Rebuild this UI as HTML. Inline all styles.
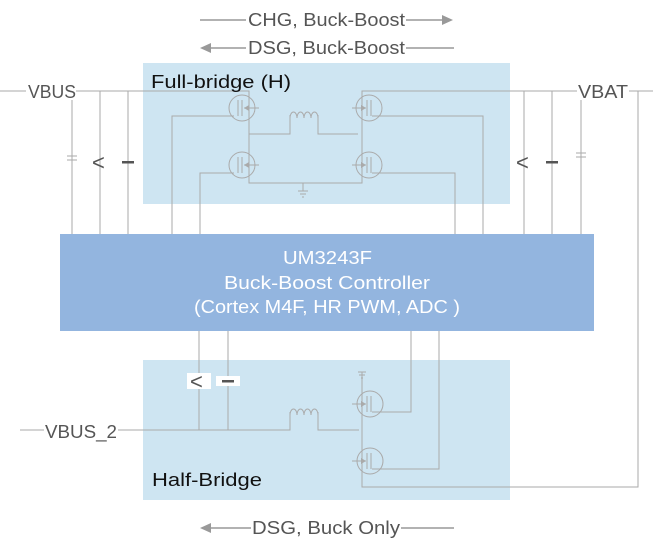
<!DOCTYPE html>
<html><head><meta charset="utf-8"><style>
html,body{margin:0;padding:0;background:#fff;}
svg{display:block;}
text{font-family:"Liberation Sans","DejaVu Sans",sans-serif;}
</style></head><body>
<svg width="653" height="553" viewBox="0 0 653 553" xmlns="http://www.w3.org/2000/svg">
<!-- top arrows -->
<g stroke="#999" stroke-width="1.5" fill="#999">
<line x1="200" y1="20" x2="246" y2="20"/><line x1="406" y1="20" x2="442" y2="20"/>
<polygon points="442,15 453,20 442,25" stroke="none"/>
<line x1="210" y1="48" x2="246" y2="48"/><line x1="406" y1="48" x2="454" y2="48"/>
<polygon points="211,43 200,48 211,53" stroke="none"/>
<line x1="210" y1="528" x2="251" y2="528"/><line x1="401" y1="528" x2="454" y2="528"/>
<polygon points="211,523 200,528 211,533" stroke="none"/>
</g>
<g fill="#555" font-size="18">
<text x="248" y="26" textLength="157" lengthAdjust="spacingAndGlyphs">CHG, Buck-Boost</text>
<text x="248" y="54" textLength="157" lengthAdjust="spacingAndGlyphs">DSG, Buck-Boost</text>
<text x="252" y="534" textLength="148" lengthAdjust="spacingAndGlyphs">DSG, Buck Only</text>
</g>
<!-- boxes -->
<rect x="143" y="63" width="367" height="141" fill="#cee5f2"/>
<rect x="143" y="360" width="367" height="140" fill="#cee5f2"/>
<g stroke="#aaa" stroke-width="1" fill="none">
<polyline points="0,91 249,91 249,183 362,183 362,91 653,91"/>
<line x1="72" y1="91" x2="72" y2="234"/>
<line x1="100" y1="91" x2="100" y2="234"/>
<line x1="128" y1="91" x2="128" y2="234"/>
<line x1="524" y1="91" x2="524" y2="234"/>
<line x1="552" y1="91" x2="552" y2="234"/>
<line x1="581" y1="91" x2="581" y2="234"/>
<polyline points="638,91 638,487 362,487 362,372"/>
<polyline points="249,134 290,134 290,115"/>
<polyline points="318,115 318,134 358,134"/>
<path d="M290,118 a3.5,6 0 0 1 7,0 a3.5,6 0 0 1 7,0 a3.5,6 0 0 1 7,0 a3.5,6 0 0 1 7,0"/>
<polyline points="234,116 172,116 172,234"/>
<polyline points="234,173 200,173 200,234"/>
<polyline points="372,116 483,116 483,234"/>
<polyline points="372,173 455,173 455,234"/>
<circle cx="242" cy="108" r="13"/><circle cx="242" cy="165" r="13"/>
<circle cx="369" cy="108" r="13"/><circle cx="369" cy="165" r="13"/>
<line x1="238" y1="100" x2="238" y2="116"/><line x1="242" y1="100" x2="242" y2="116"/>
<line x1="238" y1="157" x2="238" y2="173"/><line x1="242" y1="157" x2="242" y2="173"/>
<line x1="367" y1="100" x2="367" y2="116"/><line x1="371" y1="100" x2="371" y2="116"/>
<line x1="367" y1="157" x2="367" y2="173"/><line x1="371" y1="157" x2="371" y2="173"/>
<line x1="244" y1="108" x2="259" y2="108"/><line x1="244" y1="165" x2="259" y2="165"/>
<line x1="352" y1="108" x2="366" y2="108"/><line x1="352" y1="165" x2="366" y2="165"/>
<line x1="303" y1="183" x2="303" y2="191"/>
<line x1="298" y1="191" x2="308" y2="191"/><line x1="300" y1="194" x2="306" y2="194"/><line x1="302" y1="197" x2="304" y2="197"/>
<line x1="67" y1="156" x2="77" y2="156"/><line x1="67" y1="160" x2="77" y2="160"/>
<line x1="576" y1="153" x2="586" y2="153"/><line x1="576" y1="157" x2="586" y2="157"/>
<line x1="199" y1="331" x2="199" y2="430"/>
<line x1="228" y1="331" x2="228" y2="430"/>
<polyline points="20,430 290,430 290,412"/>
<polyline points="318,412 318,430 359,430"/>
<path d="M290,415 a3.5,6 0 0 1 7,0 a3.5,6 0 0 1 7,0 a3.5,6 0 0 1 7,0 a3.5,6 0 0 1 7,0"/>
<line x1="362" y1="378" x2="362" y2="487"/>
<line x1="358" y1="372" x2="366" y2="372"/><line x1="359" y1="375" x2="365" y2="375"/><line x1="361" y1="378" x2="363" y2="378"/>
<circle cx="370" cy="404" r="13"/><circle cx="370" cy="461" r="13"/>
<line x1="367" y1="396" x2="367" y2="412"/><line x1="371" y1="396" x2="371" y2="412"/>
<line x1="367" y1="453" x2="367" y2="469"/><line x1="371" y1="453" x2="371" y2="469"/>
<line x1="352" y1="404" x2="366" y2="404"/><line x1="352" y1="461" x2="366" y2="461"/>
<polyline points="372,412 411,412 411,331"/>
<polyline points="372,469 439,469 439,331"/>
</g>
<g fill="#aaa">
<polygon points="244,108 249,105 249,111"/><polygon points="244,165 249,162 249,168"/>
<polygon points="366,108 361,105 361,111"/><polygon points="366,165 361,162 361,168"/>
<polygon points="366,404 361,401 361,407"/><polygon points="366,461 361,458 361,464"/>
</g>
<g fill="#555" font-size="22">
<text x="92" y="170">&lt;</text>
<rect x="122" y="161" width="12" height="2.5"/>
<text x="516" y="170">&lt;</text>
<rect x="546" y="161" width="12" height="2.5"/>
<rect x="187" y="373" width="24" height="16" fill="#fff"/>
<rect x="216" y="376" width="24" height="10" fill="#fff"/>
<text x="190" y="389">&lt;</text>
<rect x="222" y="380" width="12" height="2.5"/>
</g>
<rect x="60" y="234" width="534" height="97" fill="#93b5df"/>
<g fill="#fff" font-size="18" text-anchor="start">
<text x="283" y="264" textLength="89" lengthAdjust="spacingAndGlyphs">UM3243F</text>
<text x="224" y="289" textLength="206" lengthAdjust="spacingAndGlyphs">Buck-Boost Controller</text>
<text x="194" y="313" textLength="266" lengthAdjust="spacingAndGlyphs">(Cortex M4F, HR PWM, ADC )</text>
</g>
<g font-size="18">
<rect x="26" y="82" width="50" height="18" fill="#fff"/>
<text x="28" y="98" fill="#555" textLength="48" lengthAdjust="spacingAndGlyphs">VBUS</text>
<rect x="577" y="82" width="52" height="18" fill="#fff"/>
<text x="578" y="98" fill="#555" textLength="50" lengthAdjust="spacingAndGlyphs">VBAT</text>
<rect x="44" y="422" width="74" height="18" fill="#fff"/>
<text x="45" y="438" fill="#555" textLength="72" lengthAdjust="spacingAndGlyphs">VBUS_2</text>
<text x="151" y="88" fill="#111" textLength="140" lengthAdjust="spacingAndGlyphs">Full-bridge (H)</text>
<text x="152" y="486" fill="#111" textLength="110" lengthAdjust="spacingAndGlyphs">Half-Bridge</text>
</g>
</svg>
</body></html>
